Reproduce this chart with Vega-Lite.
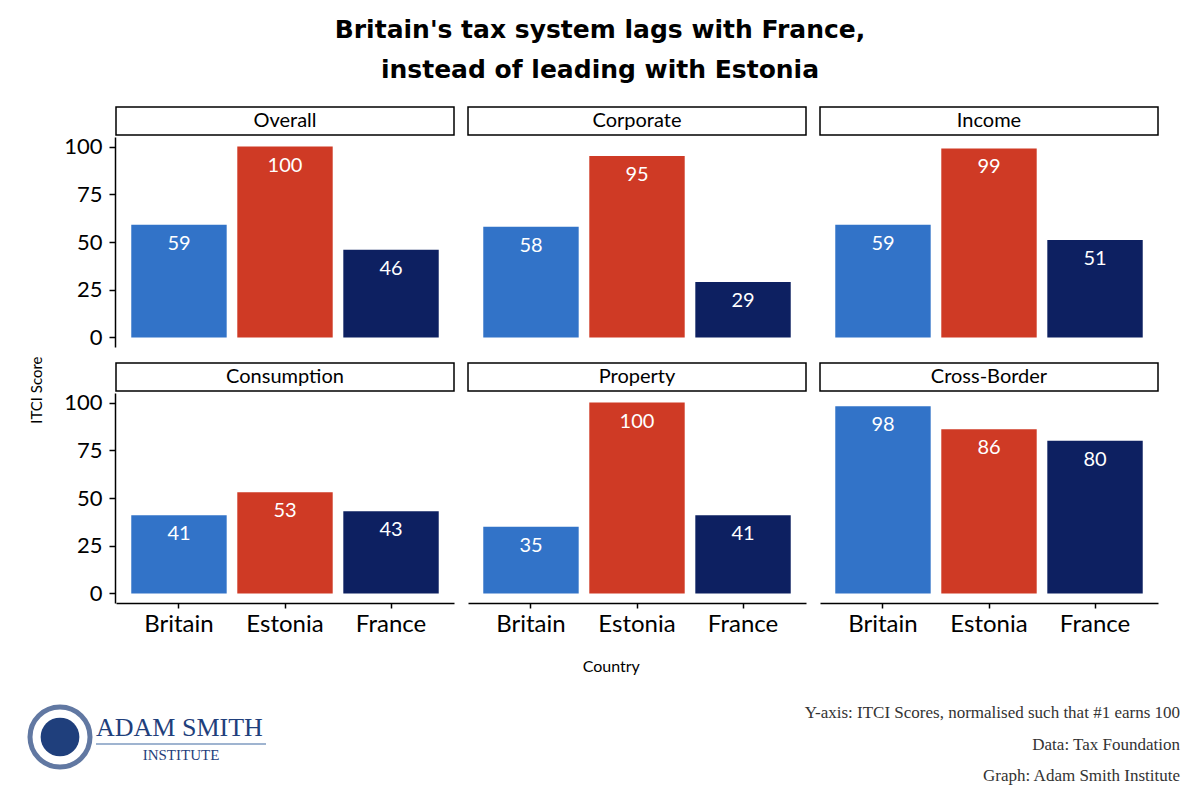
{
  "$schema": "https://vega.github.io/schema/vega-lite/v6.json",
  "background": "white",
  "padding": {"left": 20, "top": 18, "right": 10, "bottom": 5},
  "config": {
    "view": {"stroke": null},
    "font": "Lato",
    "concat": {"spacing": 0}
  },
  "title": {
    "text": ["Britain's tax system lags with France,", "instead of leading with Estonia"],
    "font": "DejaVu Sans",
    "fontSize": 25,
    "fontWeight": "bold",
    "lineHeight": 40,
    "anchor": "middle",
    "color": "black",
    "offset": 22
  },
  "spacing": 22,
  "vconcat": [
    {
      "title": {"text": "ITCI Score", "orient": "left", "fontSize": 15, "fontWeight": "normal", "color": "black", "anchor": "middle", "offset": 19},
      "vconcat": [
        {
          "title": {"text": "Country", "orient": "bottom", "fontSize": 16, "fontWeight": "normal", "color": "black", "anchor": "middle", "offset": 23},
          "data": {
            "values": [
              {"Category": "Overall", "Country": "Britain", "Score": 59},
              {"Category": "Overall", "Country": "Estonia", "Score": 100},
              {"Category": "Overall", "Country": "France", "Score": 46},
              {"Category": "Corporate", "Country": "Britain", "Score": 58},
              {"Category": "Corporate", "Country": "Estonia", "Score": 95},
              {"Category": "Corporate", "Country": "France", "Score": 29},
              {"Category": "Income", "Country": "Britain", "Score": 59},
              {"Category": "Income", "Country": "Estonia", "Score": 99},
              {"Category": "Income", "Country": "France", "Score": 51},
              {"Category": "Consumption", "Country": "Britain", "Score": 41},
              {"Category": "Consumption", "Country": "Estonia", "Score": 53},
              {"Category": "Consumption", "Country": "France", "Score": 43},
              {"Category": "Property", "Country": "Britain", "Score": 35},
              {"Category": "Property", "Country": "Estonia", "Score": 100},
              {"Category": "Property", "Country": "France", "Score": 41},
              {"Category": "Cross-Border", "Country": "Britain", "Score": 98},
              {"Category": "Cross-Border", "Country": "Estonia", "Score": 86},
              {"Category": "Cross-Border", "Country": "France", "Score": 80}
            ]
          },
          "columns": 3,
          "spacing": {"column": 12, "row": 14},
          "facet": {
            "field": "Category",
            "type": "nominal",
            "sort": ["Overall", "Corporate", "Income", "Consumption", "Property", "Cross-Border"],
            "header": {"labelExpr": "''", "labelFontSize": 1, "labelPadding": 0, "title": null}
          },
          "spec": {
            "width": 338,
            "height": 210,
            "encoding": {
              "x": {
                "field": "Country",
                "type": "nominal",
                "sort": ["Britain", "Estonia", "France"],
                "scale": {"paddingInner": 0.1, "paddingOuter": 0.144},
                "axis": {
                  "title": null,
                  "labelAngle": 0,
                  "labelFontSize": 24,
                  "labelColor": "black",
                  "domainColor": "black",
                  "domainWidth": 1.5,
                  "tickColor": "black",
                  "tickWidth": 1.5,
                  "tickSize": 5,
                  "labelPadding": 4
                }
              },
              "y": {
                "field": "Score",
                "type": "quantitative",
                "scale": {"domain": [-5, 105], "nice": false, "zero": false},
                "axis": {
                  "title": null,
                  "values": [0, 25, 50, 75, 100],
                  "grid": false,
                  "labelFontSize": 22,
                  "labelColor": "black",
                  "domainColor": "black",
                  "domainWidth": 1.5,
                  "tickColor": "black",
                  "tickWidth": 1.5,
                  "tickSize": 6,
                  "labelPadding": 7
                }
              }
            },
            "layer": [
              {
                "mark": {"type": "bar"},
                "encoding": {
                  "y2": {"datum": 0},
                  "color": {
                    "field": "Country",
                    "type": "nominal",
                    "scale": {"domain": ["Britain", "Estonia", "France"], "range": ["#3273c8", "#cf3a25", "#0d2061"]},
                    "legend": null
                  }
                }
              },
              {
                "mark": {"type": "text", "dy": 19, "fontSize": 20, "color": "white", "baseline": "middle"},
                "encoding": {"text": {"field": "Score", "type": "quantitative"}}
              },
              {
                "transform": [{"filter": "datum.Country === 'Britain'"}],
                "mark": {"type": "rect", "fill": "white", "stroke": "black", "strokeWidth": 1.5},
                "encoding": {
                  "x": {"value": 0},
                  "x2": {"value": 338},
                  "y": {"datum": 106},
                  "y2": {"datum": 120.7}
                }
              },
              {
                "transform": [{"filter": "datum.Country === 'Britain'"}],
                "mark": {"type": "text", "fontSize": 20, "color": "black", "baseline": "middle"},
                "encoding": {
                  "x": {"value": 169},
                  "y": {"datum": 113.4},
                  "text": {"field": "Category", "type": "nominal"}
                }
              }
            ]
          }
        }
      ]
    },
    {
      "hconcat": [
        {
          "width": 200,
          "height": 95,
          "data": {"values": [{"name": "Adam Smith Institute"}]},
          "layer": [
            {
              "mark": {"type": "point", "shape": "circle", "filled": false, "stroke": "#1f3f7c", "strokeWidth": 5, "size": 3600},
              "encoding": {"x": {"value": -56}, "y": {"value": 40}}
            },
            {
              "mark": {"type": "point", "shape": "circle", "filled": true, "color": "#1f3f7c", "opacity": 1, "size": 1500},
              "encoding": {"x": {"value": -56}, "y": {"value": 40}}
            },
            {
              "mark": {"type": "text", "text": "ADAM SMITH", "font": "Liberation Serif", "fontSize": 26, "color": "#1f3f7c", "align": "left", "baseline": "middle"},
              "encoding": {"x": {"value": -20}, "y": {"value": 31}}
            },
            {
              "mark": {"type": "rule", "color": "#9fb4d0", "strokeWidth": 2},
              "encoding": {"x": {"value": -20}, "x2": {"value": 150}, "y": {"value": 47}}
            },
            {
              "mark": {"type": "text", "text": "INSTITUTE", "font": "Liberation Serif", "fontSize": 15, "color": "#1f3f7c", "align": "center", "baseline": "middle"},
              "encoding": {"x": {"value": 65}, "y": {"value": 58}}
            }
          ]
        },
        {
          "width": 864,
          "height": 95,
          "data": {
            "values": [
              {"order": 1, "line": "Y-axis: ITCI Scores, normalised such that #1 earns 100"},
              {"order": 2, "line": "Data: Tax Foundation"},
              {"order": 3, "line": "Graph: Adam Smith Institute"}
            ]
          },
          "mark": {"type": "text", "align": "right", "baseline": "middle", "font": "Liberation Serif", "fontSize": 17, "color": "#333333"},
          "encoding": {
            "x": {"value": 864},
            "y": {"field": "order", "type": "ordinal", "axis": null},
            "text": {"field": "line", "type": "nominal"}
          }
        }
      ]
    }
  ]
}
